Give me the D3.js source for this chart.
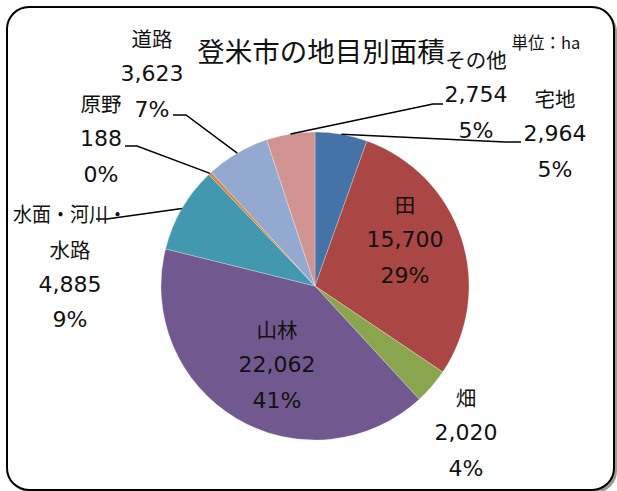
<!DOCTYPE html>
<html><head><meta charset="utf-8">
<script src="https://cdn.jsdelivr.net/npm/d3@7"></script>
<style>
html,body{margin:0;padding:0;background:#fff;}
text{font-family:"DejaVu Sans","Noto Sans CJK JP",sans-serif;fill:#111;}
.cjk{font-family:"Noto Sans CJK JP",sans-serif;}
</style></head>
<body><svg id="c" width="617" height="491"></svg>
<script>
const categories = ["宅地","田","畑","山林","水面・河川・水路","原野","道路","その他"];
const values = [2964, 15700, 2020, 22062, 4885, 188, 3623, 2754];
const percentLabels = ["5%","29%","4%","41%","9%","0%","7%","5%"];
const colors = ["#4572A7","#AA4643","#89A54E","#71588F","#4198AF","#DB843D","#93A9CF","#D19392"];
const title = "登米市の地目別面積";
const unitLabel = "単位：ha";

// label layout: name lines, x, first-line y, optional leader (elbow, end)
const labelLayout = [
  {lines:["宅地"], x:555, y:98, leader:{elbow:[505,142], end:[521,142]}},
  {lines:["田"], x:405, y:204},
  {lines:["畑"], x:466, y:397},
  {lines:["山林"], x:277, y:329},
  {lines:["水面・河川・","水路"], x:70, y:213, widths:[114,null], leader:{elbow:[107,219], end:[96,219]}},
  {lines:["原野"], x:101, y:103, leader:{elbow:[137,146], end:[125,146]}},
  {lines:["道路"], x:152, y:38, leader:{elbow:[186,115], end:[173,115]}},
  {lines:["その他"], x:476, y:59, leader:{elbow:[433,104], end:[443,104]}}
];

const svg = d3.select("#c");
const cx = 315, cy = 286, R = 154, lineH = 35.5;

// frame with shadow
svg.append("rect").attr("x",10).attr("y",10).attr("width",607).attr("height",483).attr("rx",22)
  .attr("fill","#9a9a9a");
svg.append("rect").attr("x",7).attr("y",7).attr("width",607).attr("height",483).attr("rx",22)
  .attr("fill","#fff").attr("stroke","#000").attr("stroke-width",2);

const pie = d3.pie().sort(null).value(d=>d)(values);
const arc = d3.arc().innerRadius(0).outerRadius(R);
const g = svg.append("g").attr("transform",`translate(${cx},${cy})`);
g.selectAll("path").data(pie).join("path")
  .attr("d",arc).attr("fill",(d,i)=>colors[i])
  .attr("stroke","rgba(255,255,255,0.45)").attr("stroke-width",0.6);

// leader lines
pie.forEach((d,i)=>{
  const L = labelLayout[i].leader;
  if(!L) return;
  const a = (d.startAngle+d.endAngle)/2;
  const p0 = [cx + R*Math.sin(a), cy - R*Math.cos(a)];
  svg.append("polyline")
    .attr("points",[p0,L.elbow,L.end].map(p=>p.join(",")).join(" "))
    .attr("fill","none").attr("stroke","#000").attr("stroke-width",1.5);
});

// labels
const fmt = d3.format(",");
labelLayout.forEach((L,i)=>{
  L.lines.forEach((t,k)=>{
    const tx = svg.append("text").attr("class","cjk").attr("x",L.x).attr("y",L.y + k*lineH)
      .attr("text-anchor","middle").attr("dominant-baseline","central")
      .attr("font-size",20.5).text(t);
    if(L.widths && L.widths[k]) tx.attr("textLength",L.widths[k]).attr("lengthAdjust","spacingAndGlyphs");
  });
  const n = L.lines.length;
  [fmt(values[i]), percentLabels[i]].forEach((t,k)=>{
    svg.append("text").attr("x",L.x).attr("y",L.y + (n+k)*lineH)
      .attr("text-anchor","middle").attr("dominant-baseline","central")
      .attr("font-size",22).text(t);
  });
});

svg.append("text").attr("class","cjk").attr("x",321).attr("y",50).attr("text-anchor","middle")
  .attr("dominant-baseline","central").attr("font-size",27.5).text(title);
svg.append("text").attr("class","cjk").attr("x",546).attr("y",42).attr("text-anchor","middle")
  .attr("dominant-baseline","central").attr("font-size",16.5).text(unitLabel);
</script></body></html>
